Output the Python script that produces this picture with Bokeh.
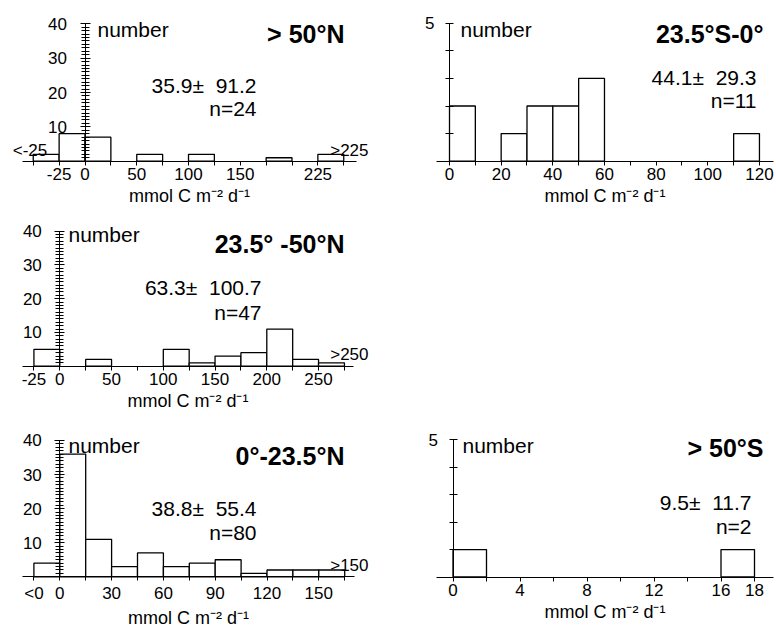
from bokeh.plotting import figure
from bokeh.models import Range1d, LinearAxis, FixedTicker
from bokeh.core.properties import value
from bokeh.embed import file_html
from bokeh.resources import INLINE

FONT = "Liberation Sans"
XLABEL = "mmol C m\u207b\u00b2 d\u207b\u00b9"

# ---------------- data ----------------
# > 50N
p1_left = [-50, -25, 0, 50, 100, 175, 225]
p1_count = [2, 8, 7, 2, 2, 1, 2]
p1_width = 25
p1_xticks = list(range(-50, 251, 25))
p1_xlabels = {-25: "-25", 0: "0", 50: "50", 100: "100", 150: "150", 225: "225"}
p1_title = "> 50\u00b0N"
p1_stats = ["35.9\u00b1\u00a0 91.2", "n=24"]
p1_extra = ["<-25", ">225"]

# 23.5S-0
p2_left = [0, 20, 30, 40, 50, 110]
p2_count = [2, 1, 2, 2, 3, 1]
p2_width = 10
p2_xticks = list(range(0, 121, 10))
p2_xlabels = {0: "0", 20: "20", 40: "40", 60: "60", 80: "80", 100: "100", 120: "120"}
p2_title = "23.5\u00b0S-0\u00b0"
p2_stats = ["44.1\u00b1\u00a0 29.3", "n=11"]

# 23.5-50N
p3_left = [-25, 25, 100, 125, 150, 175, 200, 225, 250]
p3_count = [5, 2, 5, 1, 3, 4, 11, 2, 1]
p3_width = 25
p3_xticks = list(range(-25, 276, 25))
p3_xlabels = {-25: "-25", 0: "0", 50: "50", 100: "100", 150: "150", 200: "200", 250: "250"}
p3_title = "23.5\u00b0 -50\u00b0N"
p3_stats = ["63.3\u00b1\u00a0 100.7", "n=47"]
p3_extra = [">250"]

# 0-23.5N
p4_left = [-15, 0, 15, 30, 45, 60, 75, 90, 105, 120, 135, 150]
p4_count = [4, 36, 11, 3, 7, 3, 4, 5, 1, 2, 2, 2]
p4_width = 15
p4_xticks = list(range(-15, 166, 15))
p4_xlabels = {-15: "<0", 0: "0", 30: "30", 60: "60", 90: "90", 120: "120", 150: "150"}
p4_title = "0\u00b0-23.5\u00b0N"
p4_stats = ["38.8\u00b1\u00a0 55.4", "n=80"]
p4_extra = [">150"]

# > 50S
p5_left = [0, 16]
p5_count = [1, 1]
p5_width = 2
p5_xticks = list(range(0, 19, 2))
p5_xlabels = {0: "0", 4: "4", 8: "8", 12: "12", 16: "16", 18: "18"}
p5_title = "> 50\u00b0S"
p5_stats = ["9.5\u00b1\u00a0 11.7", "n=2"]

big_yticks = [10, 20, 30, 40]
big_yminor = list(range(0, 41))
small_yticks = [1, 2, 3, 4, 5]

# ---------------- layout ----------------
W, H = 776, 630
OX, OY = 0, 0

# (x0 pixel, px per unit x, baseline pixel, px per unit y) in window coords
L1 = (84.5, 1.035, 160.7, 3.435)
L2 = (449.0, 2.583, 160.7, 27.6)
L3 = (59.3, 1.035, 365.7, 3.375)
L4 = (59.3, 1.7267, 576.3, 3.41)
L5 = (452.5, 16.75, 576.5, 27.44)


def make_ranges(L):
    X0, s, Yb, t = L
    fx, fy = X0 - OX, Yb - OY
    return Range1d(-fx / s, (W - fx) / s), Range1d(-(H - fy) / t, fy / t)


def dat(L, wx, wy):
    X0, s, Yb, t = L
    return (wx - X0) / s, (Yb - wy) / t


def px_to_x(L, wx):
    return (wx - L[0]) / L[1]


p = figure(width=W, height=H, output_backend="svg", toolbar_location=None,
           x_axis_location=None, y_axis_location=None, min_border=0,
           outline_line_color=None)
p.background_fill_color = "white"
p.border_fill_color = "white"
p.grid.visible = False

panels = [
    dict(name="p1", L=L1, left=p1_left, count=p1_count, width=p1_width,
         xticks=p1_xticks, xlabels=p1_xlabels, ybig=True, xb=(22, 356),
         title=p1_title, title_px=(344, 33), stats=p1_stats, stats_px=(256, 85, 108),
         number_px=(97, 29),
         extra=[(p1_extra[0], 29.5, 150, "center"), (p1_extra[1], 368, 150, "right")]),
    dict(name="p2", L=L2, left=p2_left, count=p2_count, width=p2_width,
         xticks=p2_xticks, xlabels=p2_xlabels, ybig=False, xb=(436, 773),
         title=p2_title, title_px=(763, 33), stats=p2_stats, stats_px=(756, 77, 100),
         number_px=(460, 29), extra=[]),
    dict(name="p3", L=L3, left=p3_left, count=p3_count, width=p3_width,
         xticks=p3_xticks, xlabels=p3_xlabels, ybig=True, xb=(21.7, 353),
         title=p3_title, title_px=(344, 243), stats=p3_stats, stats_px=(261, 287, 312),
         number_px=(68, 234), extra=[(p3_extra[0], 368, 354, "right")]),
    dict(name="p4", L=L4, left=p4_left, count=p4_count, width=p4_width,
         xticks=p4_xticks, xlabels=p4_xlabels, ybig=True, xb=(21.7, 354),
         title=p4_title, title_px=(344, 455), stats=p4_stats, stats_px=(256, 508, 532),
         number_px=(68, 445), extra=[(p4_extra[0], 368, 565, "right")]),
    dict(name="p5", L=L5, left=p5_left, count=p5_count, width=p5_width,
         xticks=p5_xticks, xlabels=p5_xlabels, ybig=False, xb=(436, 773),
         title=p5_title, title_px=(763, 447), stats=p5_stats, stats_px=(751, 502, 526),
         number_px=(462, 445), extra=[]),
]

first = True
for pn in panels:
    L = pn["L"]
    xr, yr = make_ranges(L)
    xn, yn = pn["name"] + "x", pn["name"] + "y"
    if first:
        p.x_range = xr
        p.y_range = yr
        xn, yn = "default", "default"
        first = False
    else:
        p.extra_x_ranges[xn] = xr
        p.extra_y_ranges[yn] = yr

    # bars
    lefts = pn["left"]
    rights = [v + pn["width"] for v in lefts]
    p.quad(left=lefts, right=rights, bottom=0, top=pn["count"],
           fill_color="white", line_color="black", line_width=1.3,
           x_range_name=xn, y_range_name=yn)

    # x axis
    xa = LinearAxis(x_range_name=xn, y_range_name=yn, fixed_location=0,
                    bounds=(px_to_x(L, pn["xb"][0]), px_to_x(L, pn["xb"][1])),
                    ticker=FixedTicker(ticks=pn["xticks"]),
                    major_label_overrides={k: pn["xlabels"].get(k, "") for k in pn["xticks"]},
                    axis_label=XLABEL)
    xa.major_tick_in = 0
    xa.major_tick_out = 4
    xa.minor_tick_line_color = None
    xa.axis_line_color = "black"
    xa.major_tick_line_color = "black"
    xa.major_label_text_font = FONT
    xa.major_label_text_font_size = "17px"
    xa.major_label_text_color = "black"
    xa.major_label_standoff = 3
    xa.axis_label_text_font = FONT
    xa.axis_label_text_font_size = "18px"
    xa.axis_label_text_font_style = "normal"
    xa.axis_label_text_color = "black"
    xa.axis_label_standoff = 2
    p.add_layout(xa, "below")

    # y axis
    if pn["ybig"]:
        ya = LinearAxis(x_range_name=xn, y_range_name=yn, fixed_location=0,
                        bounds=(0, 40),
                        ticker=FixedTicker(ticks=big_yticks, minor_ticks=big_yminor))
        ya.major_tick_in = 5
        ya.major_tick_out = 5
        ya.minor_tick_in = 4
        ya.minor_tick_out = 4
        ya.major_label_standoff = 13
        ya.minor_tick_line_color = "black"
    else:
        ya = LinearAxis(x_range_name=xn, y_range_name=yn, fixed_location=0,
                        bounds=(0, 5),
                        ticker=FixedTicker(ticks=small_yticks),
                        major_label_overrides={1: "", 2: "", 3: "", 4: ""})
        ya.major_tick_in = 4
        ya.major_tick_out = 4
        ya.minor_tick_line_color = None
        ya.major_label_standoff = 11
    ya.axis_line_color = "black"
    ya.major_tick_line_color = "black"
    ya.major_label_text_font = FONT
    ya.major_label_text_font_size = "17px"
    ya.major_label_text_color = "black"
    p.add_layout(ya, "left")

    # texts
    tx, ty = dat(L, *pn["title_px"])
    p.text(x=[tx], y=[ty], text=[pn["title"]], text_font=value(FONT),
           text_font_size="25px", text_font_style="bold", text_align="right",
           text_baseline="alphabetic", text_color="black",
           x_range_name=xn, y_range_name=yn)
    sx, sy1 = dat(L, pn["stats_px"][0], pn["stats_px"][1])
    _, sy2 = dat(L, pn["stats_px"][0], pn["stats_px"][2])
    p.text(x=[sx, sx], y=[sy1, sy2], text=pn["stats"], text_font=value(FONT),
           text_font_size="21px", text_align="right", text_baseline="alphabetic",
           text_color="black", x_range_name=xn, y_range_name=yn)
    nx, ny = dat(L, *pn["number_px"])
    p.text(x=[nx], y=[ny], text=["number"], text_font=value(FONT),
           text_font_size="21px", text_align="left", text_baseline="alphabetic",
           text_color="black", x_range_name=xn, y_range_name=yn)
    for (txt, wx, wy, al) in pn["extra"]:
        ex, ey = dat(L, wx, wy)
        p.text(x=[ex], y=[ey], text=[txt], text_font=value(FONT),
               text_font_size="17px", text_align=al, text_baseline="alphabetic",
               text_color="black", x_range_name=xn, y_range_name=yn)

open("out.html", "w").write(file_html(p, INLINE))
